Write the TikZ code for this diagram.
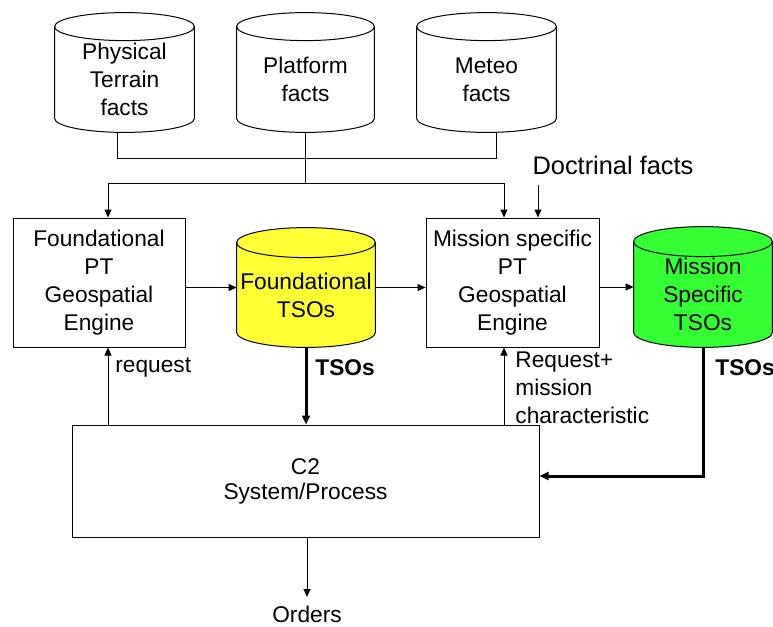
\documentclass[tikz,border=0pt]{standalone}
\usepackage{fontspec}
\setmainfont{Liberation Sans}
\usetikzlibrary{arrows.meta,calc}
\pgfdeclarelayer{background}
\pgfsetlayers{background,main}
\definecolor{tsoyellow}{RGB}{255,255,51}
\definecolor{tsogreen}{RGB}{51,255,51}
\newcommand\drawcyl[3]{%
\begin{pgfonlayer}{background}
\path[draw=black,fill=#2,line width=0.5pt] let \p1=(#1.north west), \p2=(#1.south east) in
 (\x1,\y1-#3) -- (\x1,\y2+#3) arc[start angle=180,end angle=360,x radius={(\x2-\x1)/2},y radius=#3]
 -- (\x2,\y1-#3) arc[start angle=0,end angle=180,x radius={(\x2-\x1)/2},y radius=#3] -- cycle;
\draw[line width=0.5pt] let \p1=(#1.north west), \p2=(#1.south east) in
 (\x1,\y1-#3) arc[start angle=180,end angle=360,x radius={(\x2-\x1)/2},y radius=#3];
\end{pgfonlayer}}
\begin{document}
\begin{tikzpicture}[x=0.5pt,y=-0.5pt,
  every node/.style={font=\fontsize{11.35}{14}\selectfont},
  box/.style={draw,line width=0.5pt,align=center,inner sep=0pt},
  cylbox/.style={inner sep=0pt},
  ctext/.style={align=center,inner sep=0pt},
  lbl/.style={align=left,inner sep=0pt,anchor=west},
  boldlbl/.style={lbl,font=\fontsize{11.35}{14}\selectfont\bfseries},
  arr/.style={line width=0.5pt,-{Triangle[length=4pt,width=3.5pt]}},
  thickarr/.style={line width=1.5pt,-{Triangle[length=4.5pt,width=4pt]}},
  conn/.style={line width=0.5pt}]
\useasboundingbox (0,0) rectangle (773,627);
% top fact stores
\node[cylbox,minimum width=69.5pt,minimum height=59.5pt] (ptf) at (124.5,72.5) {};
\node[ctext] (ptft) at ([yshift=-3.5pt]ptf.center) {Physical\\Terrain\\facts};
\node[cylbox,minimum width=68.5pt,minimum height=59.5pt] (pff) at (305.5,72.5) {};
\node[ctext] (pfft) at ([yshift=-3.5pt]pff.center) {Platform\\facts};
\node[cylbox,minimum width=69.5pt,minimum height=59.5pt] (mtf) at (486.5,72.5) {};
\node[ctext] (mtft) at ([yshift=-3.5pt]mtf.center) {Meteo\\facts};
% middle row
\node[box,minimum width=86pt,minimum height=64.5pt] (fge) at (99,282.5) {Foundational\\PT\\Geospatial\\Engine};
\node[cylbox,minimum width=69pt,minimum height=59.5pt] (ftso) at (306,287.5) {};
\node[ctext] (ftsot) at ([yshift=-3.75pt]ftso.center) {Foundational\\TSOs};
\node[box,minimum width=86.5pt,minimum height=64.5pt] (mse) at (512.5,282.5) {Mission specific\\PT\\Geospatial\\Engine};
\node[cylbox,minimum width=69pt,minimum height=60pt] (mtso) at (703,287) {};
\node[ctext] (mtsot) at ([yshift=-3.75pt]mtso.center) {Mission\\Specific\\TSOs};
% bottom
\node[box,minimum width=233.5pt,minimum height=56pt,font=\fontsize{11.35}{12.5}\selectfont] (c2) at (305.5,481) {C2\\System/Process};
\node[inner sep=0pt,anchor=north] (orders) at (307,606) {Orders};
\node[inner sep=0pt,font=\fontsize{12.7}{15}\selectfont] (doc) at (613,165) {Doctrinal facts};
% labels
\node[boldlbl] (l1) at (315,368) {TSOs};
\node[lbl] (l2) at (115,368) {request};
\node[lbl] (l3) at (515,388) {Request+\\mission\\characteristic};
\node[boldlbl] (l4) at (715,368) {TSOs};
% cylinders
\drawcyl{ptf}{white}{7pt}
\drawcyl{pff}{white}{7pt}
\drawcyl{mtf}{white}{7pt}
\drawcyl{ftso}{tsoyellow}{7.5pt}
\drawcyl{mtso}{tsogreen}{7.5pt}
% coordinates
\coordinate (busL) at (117,158);
\coordinate (busR) at (496,158);
\coordinate (dist) at (305.5,183);
\coordinate (dL) at (108,183);
\coordinate (dR) at (504,183);
\coordinate (docin) at (538,185);
\coordinate (gturn) at (703,476);
% connectors
\draw[conn] (ptf.south -| busL) -- (busL) -- (busR) -- (mtf.south -| busR);
\draw[conn] (pff.south) -- (dist);
\draw[arr] (dist) -| (fge.north -| dL);
\draw[arr] (dist) -| (mse.north -| dR);
\draw[arr] (docin) -- (mse.north -| docin);
\draw[arr] (fge.east |- ftso.west) -- (ftso.west);
\draw[arr] (ftso.east) -- (mse.west |- ftso.east);
\draw[arr] (mse.east |- mtso.west) -- (mtso.west);
\draw[thickarr] (ftso.south) -- (c2.north -| ftso.south);
\draw[arr] (c2.north -| dL) -- (fge.south -| dL);
\draw[arr] (c2.north -| dR) -- (mse.south -| dR);
\draw[thickarr] (mtso.south) -- (gturn) -- (c2.east |- gturn);
\draw[arr,shorten >=4.5pt] (c2.south -| orders.north) -- (orders.north);
\end{tikzpicture}
\end{document}
